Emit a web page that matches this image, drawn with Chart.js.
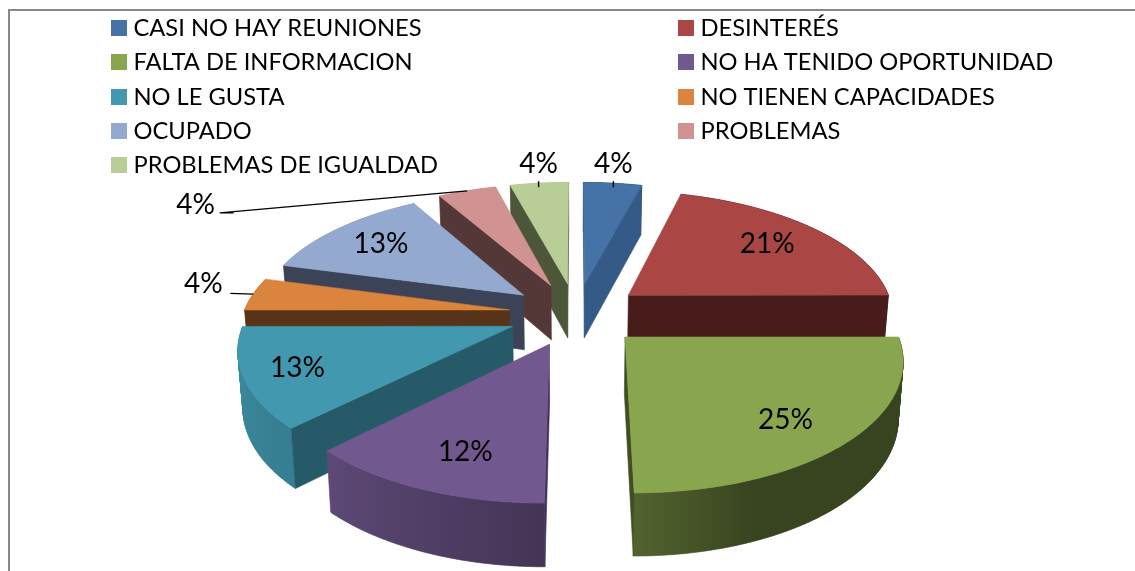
<!DOCTYPE html>
<html><head><meta charset="utf-8">
<style>html,body{margin:0;padding:0;background:#fff}canvas{display:block}</style>
<script src="https://cdn.jsdelivr.net/npm/chart.js@4/dist/chart.umd.min.js"></script>
</head><body><canvas id="c" width="1135" height="571"></canvas>
<script>
const categories=["CASI NO HAY REUNIONES","DESINTERÉS","FALTA DE INFORMACION","NO HA TENIDO OPORTUNIDAD","NO LE GUSTA","NO TIENEN CAPACIDADES","OCUPADO","PROBLEMAS","PROBLEMAS DE IGUALDAD"];
const values=[4.17,20.83,25,12.5,12.5,4.17,12.5,4.17,4.17];
const percentLabels=["4%","21%","25%","12%","13%","4%","13%","4%","4%"];
const topColors=["#4572a7","#aa4643","#89a54e","#71588f","#4198af","#db843d","#93a9cf","#d19392","#b9cd96"];
const faceColors=["#345a87","#471c1a","#3f4f22","#40305a","#275a69","#57331a","#3c4357","#543737","#4e563a"];
const wallRGB=[[69,114,167],[170,70,67],[137,165,78],[113,88,143],[65,152,175],[219,132,61],[147,169,207],[209,147,146],[185,205,150]];
const drawOrder=[8,7,6,5,4,3,0,1,2];
// label layout: radial factor and turn (deg) relative to the slice middle
const labelRadius=[1.22,.74,.775,.76,.81,1.22,.755,1.73,1.22];
const labelTurn=[-1,-.5,3,-2.5,0,2.6,0,-41,1];
// leader lines, relative to the label; fromArc starts them on the slice edge
const leaders=[[[0,23],[0,17]],null,null,null,null,[[27,9]],null,[[24,8],[38,8]],[[0,23],[0,17]]];
const fromArc=[false,false,false,false,false,true,false,true,false];

const view={cx:576,cy:314,ax:266,D:832,p:.15,explode:.254,shrink:.985};
const font='Lato, Carlito, sans-serif';
function project(X,Y){const s=1/(1-view.p*Y);return {x:view.cx+view.ax*X*s,y:view.cy+view.D*(s-1),s};}
function drop(P){const t=19+36.4*P.s;return {x:view.cx+(P.x-view.cx)*view.shrink,y:P.y+t};}
function shade(th){const k=[[0,.42],[90,.41],[158,.41],[180,.6],[225,.83],[270,.92],[360,.9]];
  for(let i=1;i<k.length;i++)if(th<=k[i][0]){const t=(th-k[i-1][0])/(k[i][0]-k[i-1][0]);return k[i-1][1]+t*(k[i][1]-k[i-1][1]);}return .9;}
function trace(ctx,pts){pts.forEach((q,i)=>i?ctx.lineTo(q.x,q.y):ctx.moveTo(q.x,q.y));ctx.closePath();}
function paint(ctx,col){ctx.fillStyle=col;ctx.fill();ctx.strokeStyle=col;ctx.lineWidth=.6;ctx.stroke();}
function poly(ctx,pts,col){ctx.beginPath();trace(ctx,pts);paint(ctx,col);}
function area(p){let s=0;p.forEach((q,i)=>{const r=p[(i+1)%p.length];s+=q.x*r.y-r.x*q.y;});return s;}

const pie3d={id:'pie3d',
 beforeDatasetsDraw(chart){
  const ctx=chart.ctx,arcs=chart.getDatasetMeta(0).data;
  const geo=arcs.map(el=>{const a0=el.startAngle+Math.PI/2,a1=el.endAngle+Math.PI/2,m=(a0+a1)/2;
    return {a0,a1,m,ex:view.explode*Math.sin(m),ey:-view.explode*Math.cos(m)};});
  const pt=(g,a,r=1)=>project(g.ex+r*Math.sin(a),g.ey-r*Math.cos(a));
  drawOrder.forEach(i=>{const g=geo[i],n=Math.max(4,Math.round((g.a1-g.a0)*180/Math.PI)*2),
    A=project(g.ex,g.ey),arc=[];
    for(let k=0;k<=n;k++)arc.push(pt(g,g.a0+(g.a1-g.a0)*k/n));
    // outer wall: swept quads in a single path, shaded by one gradient along x
    const xs=arc.map(q=>q.x),x0=Math.min(...xs),x1=Math.max(...xs),c=wallRGB[i];
    const grad=ctx.createLinearGradient(x0,0,x1,0);
    arc.map((q,k)=>({x:q.x,f:shade((g.a0+(g.a1-g.a0)*k/n)*180/Math.PI)})).sort((u,v)=>u.x-v.x)
      .forEach(st=>grad.addColorStop(x1>x0?(st.x-x0)/(x1-x0):0,`rgb(${c.map(v=>Math.round(v*st.f)).join(',')})`));
    ctx.beginPath();
    for(let k=0;k<n;k++){const q=[arc[k],arc[k+1],drop(arc[k+1]),drop(arc[k])];
      trace(ctx,area(q)<0?q.reverse():q);}
    paint(ctx,grad);
    // cut faces, only when facing the viewer
    const M=pt(g,g.m);
    [arc[0],arc[n]].forEach(B=>{const dx=B.x-A.x,dy=B.y-A.y,inner=dx*(M.y-A.y)-dy*(M.x-A.x);
      if(dx*inner<0)poly(ctx,[A,B,drop(B),drop(A)],faceColors[i]);});
    // top
    poly(ctx,[A,...arc],topColors[i]);
  });
  // leaders and labels
  ctx.textAlign='center';ctx.textBaseline='middle';ctx.font='28px '+font;
  arcs.forEach((el,i)=>{const g=geo[i],a=g.m+labelTurn[i]*Math.PI/180,L=pt(g,a,labelRadius[i]);
    if(leaders[i]){ctx.beginPath();
      const pts=leaders[i].map(d=>({x:L.x+d[0],y:L.y+d[1]}));
      if(fromArc[i])pts.unshift(pt(g,g.m));
      pts.forEach((q,k)=>k?ctx.lineTo(q.x,q.y):ctx.moveTo(q.x,q.y));
      ctx.strokeStyle='#000';ctx.lineWidth=1.4;ctx.stroke();}
    ctx.fillStyle='#000';ctx.fillText(percentLabels[i],L.x,L.y);});
  return false;
 },
 afterDraw(chart){
  const ctx=chart.ctx;
  ctx.strokeStyle='#888';ctx.lineWidth=2;ctx.beginPath();ctx.moveTo(9,571);ctx.lineTo(9,10);ctx.lineTo(1135,10);ctx.stroke();
  ctx.font='23.7px '+font;ctx.textAlign='left';ctx.textBaseline='alphabetic';
  const colX=[111,678],rowY=[20,54,89,123,157];
  categories.forEach((t,i)=>{const x=colX[i%2],y=rowY[i>>1];
    ctx.fillStyle=topColors[i];ctx.fillRect(x,y,16,16);
    ctx.fillStyle='#000';ctx.fillText(t,x+22.5,y+16);});
 }};
new Chart(document.getElementById('c'),{type:'doughnut',
 data:{labels:categories,datasets:[{data:values,backgroundColor:topColors,borderWidth:0}]},
 options:{responsive:false,animation:false,cutout:0,rotation:0,plugins:{legend:{display:false},tooltip:{enabled:false}}},
 plugins:[pie3d]});
</script></body></html>
